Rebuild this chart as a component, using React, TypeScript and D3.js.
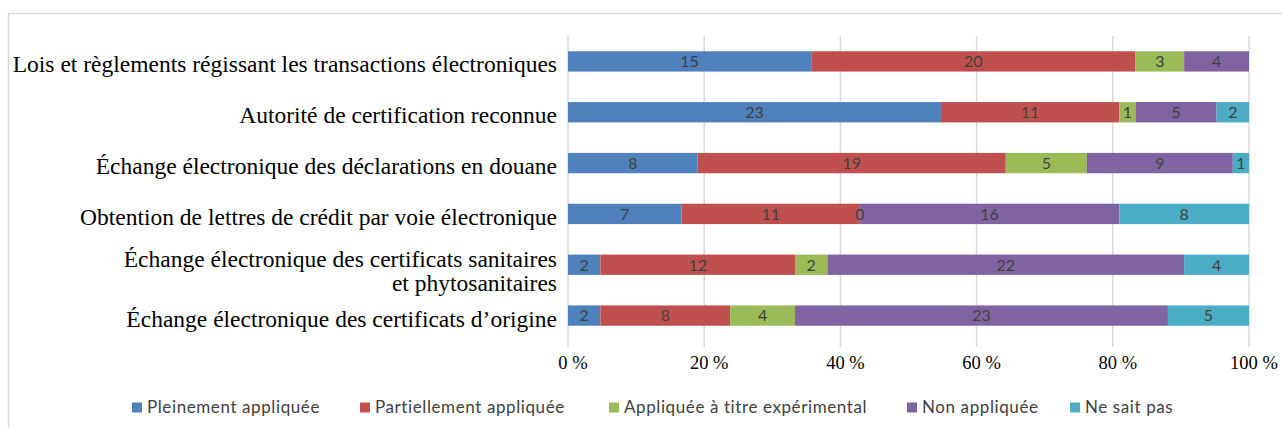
import React from "react";
import * as d3 from "d3";

const categories: string[] = [
  "Lois et règlements régissant les transactions électroniques",
  "Autorité de certification reconnue",
  "Échange électronique des déclarations en douane",
  "Obtention de lettres de crédit par voie électronique",
  "Échange électronique des certificats sanitaires\net phytosanitaires",
  "Échange électronique des certificats d’origine",
];

const seriesNames: string[] = [
  "Pleinement appliquée",
  "Partiellement appliquée",
  "Appliquée à titre expérimental",
  "Non appliquée",
  "Ne sait pas",
];

const pleinement: (number | null)[] = [15, 23, 8, 7, 2, 2];
const partiellement: (number | null)[] = [20, 11, 19, 11, 12, 8];
const experimental: (number | null)[] = [3, 1, 5, 0, 2, 4];
const nonAppliquee: (number | null)[] = [4, 5, 9, 16, 22, 23];
const neSaitPas: (number | null)[] = [null, 2, 1, 8, 4, 5];

const seriesValues = [pleinement, partiellement, experimental, nonAppliquee, neSaitPas];
const colors = ["#4f81bd", "#c0504d", "#9bbb59", "#8064a2", "#4bacc6"];

const tickValues: number[] = [0, 0.2, 0.4, 0.6, 0.8, 1];
const tickLabels: string[] = ["0 %", "20 %", "40 %", "60 %", "80 %", "100 %"];

const legendX = [132, 360, 609, 907, 1070];

export default function App() {
  const W = 1282, H = 428;
  const x = d3.scaleLinear().domain([0, 1]).range([568, 1249]);
  const y = d3
    .scaleBand<number>()
    .domain(d3.range(categories.length))
    .range([36, 341])
    .paddingInner(0.6)
    .paddingOuter(0.3);

  const rows = categories.map((_, i) => {
    const o: Record<string, number> = {};
    seriesNames.forEach((s, k) => (o[s] = seriesValues[k][i] ?? 0));
    return o;
  });
  const stacked = d3.stack<Record<string, number>>().keys(seriesNames).offset(d3.stackOffsetExpand)(rows);

  const serif = "'Liberation Serif', 'Times New Roman', serif";
  const sans = "Lato, 'Open Sans', sans-serif";

  return (
    <div style={{ position: "fixed", left: 0, top: 0 }}>
      <svg width={W} height={H} style={{ display: "block", background: "#fff" }}>
        <rect x={8.5} y={13.5} width={1300} height={430} fill="#fff" stroke="#d9d9d9" strokeWidth={1.5} />
        {/* gridlines */}
        {tickValues.map((t, i) => (
          <line key={i} x1={x(t)} x2={x(t)} y1={36} y2={347} stroke="#d9d9d9" strokeWidth={1.5} />
        ))}
        {/* bars */}
        {stacked.map((s, k) => (
          <g key={k} fill={colors[k]}>
            {s.map((d, i) => (
              <rect
                key={i}
                x={x(d[0])}
                y={y(i)!}
                width={Math.max(0, x(d[1]) - x(d[0]))}
                height={y.bandwidth()}
              />
            ))}
          </g>
        ))}
        {/* data labels */}
        {stacked.map((s, k) => (
          <g key={"l" + k}>
            {s.map((d, i) => {
              const v = seriesValues[k][i];
              if (v === null || v === undefined) return null;
              return (
                <text
                  key={i}
                  x={(x(d[0]) + x(d[1])) / 2}
                  y={y(i)! + y.bandwidth() / 2}
                  dy="0.36em"
                  textAnchor="middle"
                  fontFamily={sans}
                  fontSize={16}
                  fill="#404040"
                >
                  {v}
                </text>
              );
            })}
          </g>
        ))}
        {/* category labels */}
        {categories.map((c, i) => {
          const lines = c.split("\n");
          const cy = y(i)! + y.bandwidth() / 2;
          const first = lines.length > 1 ? cy + 2 : cy + 11;
          return (
            <text key={i} textAnchor="end" fontFamily={serif} fontSize={23.5} fill="#000">
              {lines.map((ln, j) => (
                <tspan key={j} x={557} y={first + j * 24}>
                  {ln}
                </tspan>
              ))}
            </text>
          );
        })}
        {/* tick labels */}
        {tickValues.map((t, i) => (
          <text key={i} x={x(t) + 5} y={369} textAnchor="middle" fontFamily={serif} fontSize={18.5} fill="#000">
            {tickLabels[i]}
          </text>
        ))}
        {/* legend */}
        {seriesNames.map((s, k) => (
          <g key={s}>
            <rect x={legendX[k]} y={402.5} width={10} height={10} fill={colors[k]} />
            <text x={legendX[k] + 15} y={413} fontFamily={sans} fontSize={17} letterSpacing={0.6} fill="#404040">
              {s}
            </text>
          </g>
        ))}
      </svg>
    </div>
  );
}
